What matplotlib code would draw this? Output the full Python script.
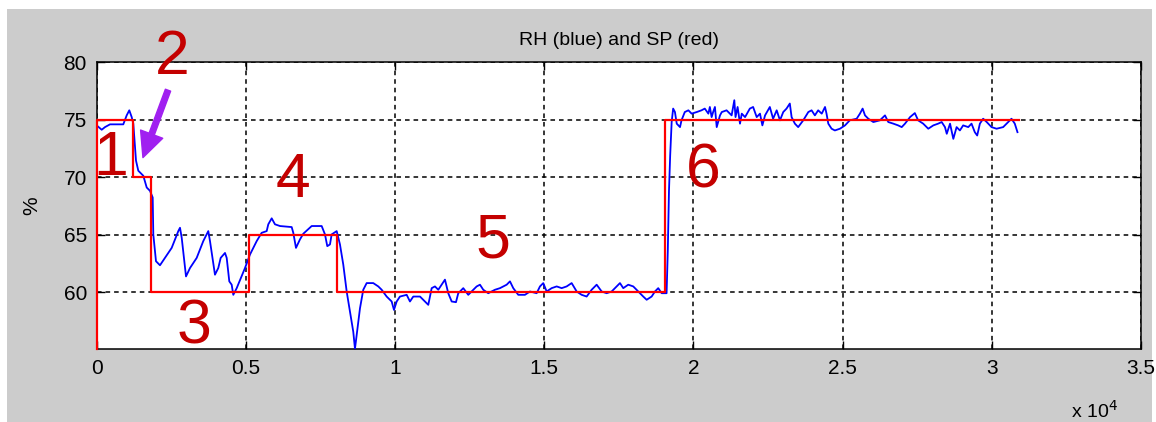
"""RH vs setpoint step response chart (Matlab-style look)."""

import matplotlib
matplotlib.use("Agg")
import matplotlib.pyplot as plt
from matplotlib.patches import Rectangle
from matplotlib.ticker import FuncFormatter

plt.rcParams["font.family"] = ["Liberation Sans", "DejaVu Sans"]

# ── Setpoint (red): step times (samples) and levels (%) ──────────────
SP_T = [0, 0, 1230, 1810, 5090, 8060, 19050, 30900]
SP_PCT = [55.05, 75, 70, 60, 65, 60, 75, 75]

RH_T = [
    0, 168, 278, 446, 891, 1005, 1092, 1173, 1227, 1317,
    1394, 1562, 1676, 1786, 1877, 1897, 1987, 2121, 2289, 2513,
    2735, 2792, 2849, 2993, 3127, 3351, 3572, 3740, 3797, 3964,
    4075, 4155, 4300, 4357, 4444, 4524, 4578, 4692, 4970, 5137,
    5362, 5529, 5697, 5751, 5865, 5975, 6143, 6535, 6589, 6679,
    6813, 6924, 7205, 7540, 7651, 7728, 7818, 7875, 8043, 8153,
    8264, 8378, 8489, 8599, 8656, 8713, 8824, 8934, 9048, 9269,
    9437, 9551, 9718, 9886, 9963, 10054, 10164, 10389, 10499, 10610,
    10835, 11002, 11113, 11227, 11337, 11448, 11672, 11783, 11897, 12041,
    12118, 12286, 12453, 12567, 12735, 12845, 12956, 13123, 13348, 13516,
    13740, 13851, 13961, 14129, 14353, 14521, 14745, 14856, 14967, 15080,
    15248, 15416, 15583, 15751, 15918, 16086, 16253, 16421, 16588, 16756,
    16924, 17091, 17259, 17426, 17537, 17648, 17815, 17983, 18150, 18318,
    18432, 18599, 18710, 18820, 18935, 19045, 19100, 19140, 19180, 19220,
    19270, 19320, 19380, 19440, 19550, 19600, 19710, 19830, 19940, 20110,
    20270, 20380, 20500, 20550, 20610, 20660, 20720, 20780, 20890, 20950,
    21110, 21280, 21370, 21410, 21480, 21560, 21620, 21730, 21890, 22000,
    22120, 22230, 22310, 22400, 22560, 22670, 22790, 22900, 23010, 23120,
    23230, 23290, 23400, 23510, 23680, 23850, 23960, 24070, 24180, 24300,
    24410, 24460, 24520, 24630, 24740, 24910, 25080, 25240, 25470, 25580,
    25670, 25750, 25860, 26030, 26250, 26420, 26530, 26700, 26860, 26980,
    27090, 27260, 27420, 27530, 27700, 27870, 28040, 28200, 28320, 28430,
    28490, 28600, 28710, 28820, 28930, 29040, 29210, 29320, 29430, 29510,
    29600, 29710, 29830, 29990, 30160, 30380, 30550, 30660, 30770, 30860,
]
RH_PCT = [
    74.49, 74.11, 74.34, 74.58, 74.58, 75.36, 75.80, 75.21, 74.64, 71.43,
    70.55, 70.11, 69.09, 68.80, 68.22, 65.01, 62.68, 62.33, 62.97, 63.84,
    65.30, 65.59, 64.72, 61.36, 62.09, 62.97, 64.43, 65.30, 64.43, 61.51,
    62.09, 62.97, 63.40, 62.97, 60.93, 60.64, 59.76, 60.34, 62.09, 63.26,
    64.43, 65.15, 65.30, 65.89, 66.41, 65.89, 65.74, 65.65, 65.15, 63.84,
    64.58, 65.07, 65.74, 65.74, 65.01, 63.99, 64.14, 65.01, 65.30, 64.14,
    62.39, 60.05, 58.30, 56.55, 55.07, 56.26, 58.59, 60.20, 60.78, 60.78,
    60.49, 60.20, 59.61, 59.18, 58.45, 59.18, 59.61, 59.76, 59.18, 59.61,
    59.61, 59.18, 58.89, 60.34, 60.49, 60.20, 61.08, 59.90, 59.18, 59.12,
    59.90, 60.34, 59.76, 60.05, 60.49, 60.64, 60.20, 59.90, 60.20, 60.34,
    60.64, 60.93, 60.34, 59.76, 59.76, 60.05, 59.90, 60.49, 60.78, 60.05,
    60.34, 60.49, 60.34, 60.49, 60.78, 60.05, 59.76, 59.61, 60.20, 60.64,
    60.05, 59.90, 60.05, 60.49, 60.78, 60.34, 60.64, 60.49, 60.05, 59.61,
    59.33, 59.61, 60.05, 60.34, 59.90, 59.90, 59.90, 63.55, 68.80, 71.86,
    74.78, 75.95, 75.65, 74.64, 74.34, 74.93, 75.65, 75.80, 75.51, 75.65,
    75.80, 75.95, 75.51, 76.09, 75.21, 75.65, 76.09, 74.34, 75.36, 75.65,
    75.80, 75.36, 76.68, 75.21, 76.09, 74.64, 75.51, 75.21, 75.95, 76.09,
    75.21, 75.51, 74.49, 75.36, 76.09, 75.07, 75.80, 74.93, 75.65, 75.95,
    76.39, 75.21, 74.64, 74.34, 74.93, 75.65, 75.80, 75.36, 75.80, 75.51,
    76.09, 75.51, 74.64, 74.20, 74.05, 74.20, 74.49, 74.93, 75.07, 75.51,
    75.95, 75.36, 75.07, 74.78, 74.93, 75.36, 74.78, 74.64, 74.49, 74.34,
    74.64, 75.21, 75.56, 74.93, 74.64, 74.20, 74.49, 74.64, 74.78, 74.34,
    73.76, 74.64, 73.32, 74.34, 74.05, 74.49, 74.34, 74.64, 73.90, 73.61,
    74.64, 75.07, 74.78, 74.34, 74.20, 74.34, 74.78, 75.07, 74.64, 73.90,
]

# ── Phase labels drawn on the chart ──────────────────────────────────
PHASE_LABELS = ["1", "2", "3", "4", "5", "6"]
PHASE_T = [480, 2530, 3260, 6580, 13280, 20320]
PHASE_PCT = [71.6, 80.4, 57.0, 69.7, 64.4, 70.5]

ARROW_TAIL = (2390, 77.55)
ARROW_TIP = (1550, 71.69)

X_TICKS = [0, 5000, 10000, 15000, 20000, 25000, 30000, 35000]
Y_TICKS = [60, 65, 70, 75, 80]

MATLAB_GRAY = "#cccccc"
LABEL_RED = "#c40000"
ARROW_PURPLE = "#a020f0"


def main() -> None:
    fig = plt.figure(figsize=(11.56, 4.22), dpi=100, facecolor="white")
    fig.patches.append(Rectangle((7 / 1156, 0), 1145 / 1156, 1 - 9 / 422,
                                 transform=fig.transFigure, facecolor=MATLAB_GRAY,
                                 edgecolor="none", zorder=-10))

    ax = fig.add_axes([96.7 / 1156, 1 - 349 / 422, (1141 - 96.7) / 1156, 287 / 422])
    ax.set_facecolor("white")

    ax.plot(RH_T, RH_PCT, color="#0000ff", linewidth=1.3, zorder=3)
    ax.plot(SP_T, SP_PCT, color="#ff0000", linewidth=1.6, drawstyle="steps-post",
            zorder=4, clip_on=False)

    ax.set_xlim(0, 35000)
    ax.set_ylim(55.05, 80)
    ax.set_xticks(X_TICKS)
    ax.set_yticks(Y_TICKS)
    ax.xaxis.set_major_formatter(FuncFormatter(lambda v, _: f"{v / 1e4:g}"))

    ax.grid(True, color="black", linestyle=(0, (3, 2.6)), linewidth=1.1)
    ax.tick_params(direction="in", top=True, right=True, length=6, width=1,
                   labelsize=15, pad=7)
    for s in ax.spines.values():
        s.set_linewidth(1.1)

    ax.set_title("RH (blue) and SP (red)", fontsize=14, pad=12)
    ax.set_ylabel("%", fontsize=15, labelpad=16)
    ax.text(0.955, -0.215, "x 10$^{4}$", transform=ax.transAxes, ha="center",
            va="center", fontsize=14)

    for lab, t, v in zip(PHASE_LABELS, PHASE_T, PHASE_PCT):
        ax.text(t, v, lab, color=LABEL_RED, fontsize=45, ha="center", va="center",
                zorder=5, clip_on=False)

    ax.annotate("", xy=ARROW_TIP, xytext=ARROW_TAIL, zorder=6,
                arrowprops=dict(facecolor=ARROW_PURPLE, edgecolor=ARROW_PURPLE,
                                width=4, headwidth=17, headlength=18, shrink=0))

    fig.savefig("out.png", dpi=100, facecolor=fig.get_facecolor())
    plt.close(fig)


if __name__ == "__main__":
    main()
